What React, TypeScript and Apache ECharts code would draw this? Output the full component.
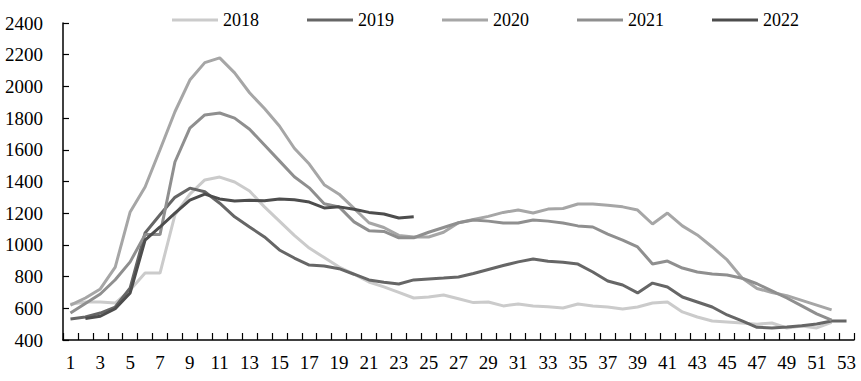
import React, { useEffect, useRef } from "react";
import * as echarts from "echarts";

const weeks: string[] = Array.from({ length: 53 }, (_, i) => String(i + 1));

const s2018: (number | null)[] = [
  625, 640, 640, 633, 715, 822, 822, 1190, 1320, 1410, 1428, 1397, 1340, 1240, 1150, 1060, 980, 920, 860, 815,
  766, 735, 700, 665, 672, 684, 660, 636, 640, 615, 627, 615, 610, 602, 627, 615, 608, 596, 608, 633,
  640, 577, 545, 520, 514, 507, 500, 507, 476, 488, 476, 512, null,
];
const s2019: (number | null)[] = [
  533, 545, 570, 608, 728, 1075, 1190, 1300, 1358, 1335, 1263, 1177, 1113, 1050, 968, 917, 873, 867, 850, 815,
  779, 765, 753, 779, 785, 791, 798, 820, 845, 870, 893, 911, 897, 890, 879, 829, 772, 747, 697, 759,
  734, 671, 640, 608, 558, 520, 480, 476, 482, 490, 501, 520, 520,
];
const s2020: (number | null)[] = [
  620, 665, 722, 860, 1208, 1365, 1600, 1840, 2040, 2150, 2180, 2085, 1960, 1860, 1750, 1610, 1510, 1380, 1320, 1230,
  1140, 1110, 1060, 1050, 1050, 1080, 1140, 1160, 1180, 1205, 1220, 1201, 1226, 1230, 1258, 1258, 1250, 1240, 1220, 1132,
  1201, 1120, 1063, 987, 905, 791, 725, 700, 680, 650, 620, 590, null,
];
const s2021: (number | null)[] = [
  570, 630, 690, 780, 893, 1065, 1065, 1523, 1737, 1820, 1832, 1800, 1730, 1630, 1530, 1430, 1360, 1260, 1240, 1145,
  1090, 1085, 1045, 1045, 1080, 1110, 1140, 1157, 1150, 1138, 1138, 1157, 1150, 1138, 1120, 1113, 1068, 1030, 987, 880,
  898, 854, 829, 817, 810, 790, 755, 710, 665, 615, 565, 525, null,
];
const s2022: (number | null)[] = [
  null, 535, 550, 597, 697, 1030, 1113, 1200, 1283, 1320, 1290, 1277, 1282, 1278, 1290, 1285, 1270, 1233, 1240, 1225,
  1205, 1195, 1170, 1178,
];

const seriesNames = ["2018", "2019", "2020", "2021", "2022"];
const seriesColors = ["#cbcbcb", "#666666", "#a6a6a6", "#8f8f8f", "#4d4d4d"];
const seriesData = [s2018, s2019, s2020, s2021, s2022];

const FONT = "Liberation Serif";

export default function App() {
  const ref = useRef<HTMLDivElement>(null);
  useEffect(() => {
    if (!ref.current) return;
    const chart = echarts.init(ref.current, undefined, { renderer: "svg" });
    chart.setOption({
      animation: false,
      backgroundColor: "#ffffff",
      textStyle: { fontFamily: FONT },
      legend: {
        data: seriesNames,
        left: 167,
        top: 6,
        icon: "rect",
        itemWidth: 46,
        itemHeight: 3,
        itemGap: 48,
        textStyle: { fontFamily: FONT, fontSize: 18, color: "#000" },
      },
      grid: { left: 63, right: 7, top: 23, bottom: 41, containLabel: false },
      xAxis: {
        type: "category",
        data: weeks,
        boundaryGap: true,
        axisLine: { lineStyle: { color: "#000", width: 1.5 } },
        axisTick: { show: true, inside: true, length: 7, interval: 0, lineStyle: { color: "#000", width: 1.2 } },
        axisLabel: { interval: 1, margin: 13, fontFamily: FONT, fontSize: 19, color: "#000" },
        splitLine: { show: false },
      },
      yAxis: {
        type: "value",
        min: 400,
        max: 2400,
        interval: 200,
        axisLine: { show: true, lineStyle: { color: "#000", width: 1.5 } },
        axisTick: { show: true, inside: true, length: 6, lineStyle: { color: "#000", width: 1.2 } },
        axisLabel: {
          margin: 20,
          fontFamily: FONT,
          fontSize: 19,
          color: "#000",
          formatter: (v: number) => String(v),
        },
        splitLine: { show: false },
      },
      series: seriesNames.map((name, i) => ({
        name,
        type: "line",
        data: seriesData[i],
        symbol: "none",
        lineStyle: { color: seriesColors[i], width: 3 },
        itemStyle: { color: seriesColors[i] },
        connectNulls: false,
        z: 2 + i,
      })),
    });
    return () => chart.dispose();
  }, []);
  return (
    <div
      ref={ref}
      style={{ position: "absolute", left: 0, top: 0, width: 861, height: 381 }}
    />
  );
}
